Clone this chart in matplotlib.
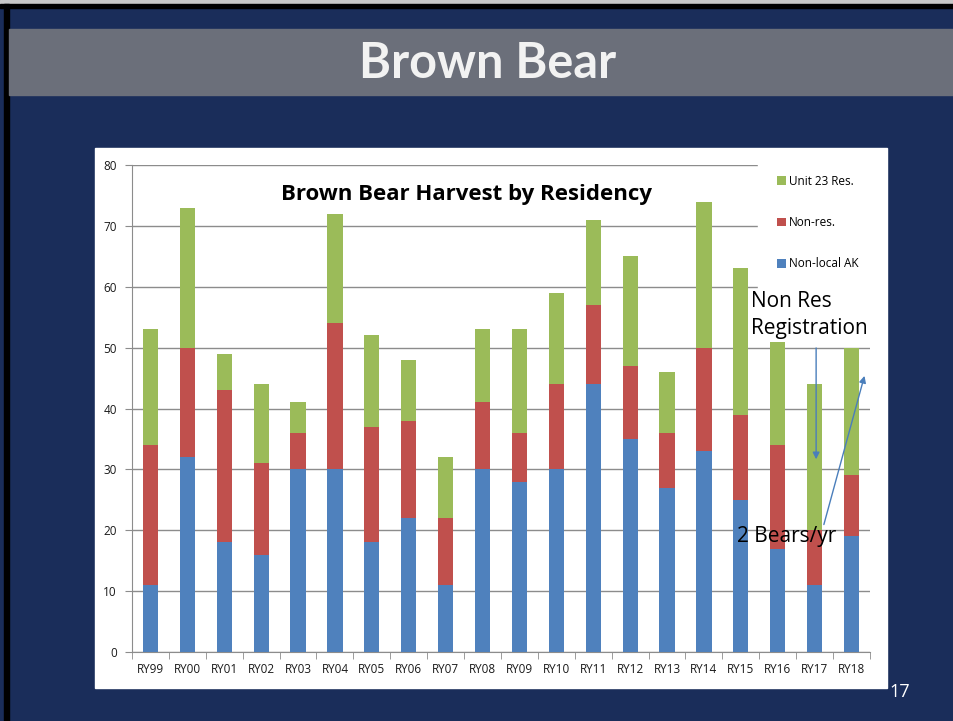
import matplotlib
matplotlib.use("Agg")
import matplotlib.pyplot as plt
import numpy as np
from matplotlib.patches import Rectangle

years = ["RY99", "RY00", "RY01", "RY02", "RY03", "RY04", "RY05", "RY06", "RY07", "RY08",
         "RY09", "RY10", "RY11", "RY12", "RY13", "RY14", "RY15", "RY16", "RY17", "RY18"]
nonlocal_ak = [11, 32, 18, 16, 30, 30, 18, 22, 11, 30, 28, 30, 44, 35, 27, 33, 25, 17, 11, 19]
non_res = [23, 18, 25, 15, 6, 24, 19, 16, 11, 11, 8, 14, 13, 12, 9, 17, 14, 17, 9, 10]
unit23_res = [19, 23, 6, 13, 5, 18, 15, 10, 10, 12, 17, 15, 14, 18, 10, 24, 24, 17, 24, 21]
y_ticks = [0, 10, 20, 30, 40, 50, 60, 70, 80]

W, H = 954, 721
NAVY = "#1a2d5a"
fig = plt.figure(figsize=(W / 100, H / 100), dpi=100)
fig.patch.set_facecolor(NAVY)

def fx(px):
    return px / W

def fy(py):
    return 1 - py / H

# slide decorations
fig.patches.append(Rectangle((0, fy(4)), 1, 4 / H, transform=fig.transFigure, color="#c8c8c8", zorder=-5))
fig.patches.append(Rectangle((0, fy(8)), 1, 4 / H, transform=fig.transFigure, color="#000000", zorder=-5))
fig.patches.append(Rectangle((fx(4), 0), 5 / W, fy(4), transform=fig.transFigure, color="#000000", zorder=-5))
fig.patches.append(Rectangle((fx(9), fy(95)), 1, 66 / H, transform=fig.transFigure, color="#6b6f7a", zorder=-5))
fig.patches.append(Rectangle((fx(95), fy(688)), 792 / W, 540 / H, transform=fig.transFigure, color="white", zorder=-5))
fig.text(fx(488), fy(63), "Brown Bear", color="#f2f2f2", fontsize=35, fontweight="bold",
         family=["Lato", "DejaVu Sans"], ha="center", va="center")
fig.text(fx(900), fy(692), "17", color="white", fontsize=13, family=["Open Sans", "DejaVu Sans"],
         ha="center", va="center")

ax = fig.add_axes([fx(132), fy(652), (870 - 132) / W, (652 - 165) / H])
ax.set_zorder(2)
ax.set_facecolor("white")
x = np.arange(len(years))
bw = 0.41
c_blue, c_red, c_green = "#4f81bd", "#c0504d", "#9bbb59"
b1 = ax.bar(x, nonlocal_ak, bw, color=c_blue, label="Non-local AK", zorder=3)
b2 = ax.bar(x, non_res, bw, bottom=nonlocal_ak, color=c_red, label="Non-res.", zorder=3)
bottom2 = np.array(nonlocal_ak) + np.array(non_res)
b3 = ax.bar(x, unit23_res, bw, bottom=bottom2, color=c_green, label="Unit 23 Res.", zorder=3)

ax.set_xlim(-0.5, len(years) - 0.5)
ax.set_ylim(0, 80)
ax.set_yticks(y_ticks)
ax.yaxis.grid(True, color="#8c8c8c", linewidth=1, zorder=0)
ax.set_axisbelow(True)
for s in ["top", "right"]:
    ax.spines[s].set_visible(False)
for s in ["left", "bottom"]:
    ax.spines[s].set_color("#8c8c8c")
ax.set_xticks(x)
ax.set_xticklabels(years)
ax.set_xticks(np.arange(len(years) + 1) - 0.5, minor=True)
ax.tick_params(axis="x", which="major", length=0, pad=8, labelsize=8.5, labelcolor="#1a1a1a")
ax.tick_params(axis="x", which="minor", length=5, color="#8c8c8c", direction="out")
ax.tick_params(axis="y", length=5, color="#8c8c8c", labelsize=8.5, labelcolor="#1a1a1a", pad=6)
for lab in ax.get_xticklabels() + ax.get_yticklabels():
    lab.set_family(["Open Sans", "DejaVu Sans"])

ax.text(8.57, 75.1, "Brown Bear Harvest by Residency", fontsize=16, fontweight="bold",
        family=["Open Sans", "DejaVu Sans"], ha="center", va="center", zorder=5)

leg = ax.legend(handles=[b3, b2, b1], loc="upper left", bbox_to_anchor=(0.840, 1.031),
                frameon=True, fancybox=False, edgecolor="white", facecolor="white", framealpha=1,
                handlelength=0.75, handleheight=0.75, handletextpad=0.3,
                labelspacing=2.4, borderpad=1.6, prop={"family": "Open Sans", "size": 8.5})
leg.set_zorder(6)

ax.text(16.27, 55.4, "Non Res\nRegistration", fontsize=15, family=["Open Sans", "DejaVu Sans"],
        ha="left", va="center", linespacing=1.4, zorder=6)
ax.text(15.9, 18.9, "2 Bears/yr", fontsize=15, family=["Open Sans", "DejaVu Sans"],
        ha="left", va="center", zorder=6)
arrow_kw = dict(arrowstyle="-|>", color="#4a7ebb", lw=1.0, mutation_scale=10)
ax.annotate("", xy=(18.04, 31.2), xytext=(18.04, 50.4), arrowprops=arrow_kw, zorder=7)
ax.annotate("", xy=(19.37, 45.8), xytext=(18.23, 20.5), arrowprops=arrow_kw, zorder=7)

fig.savefig("out.png", dpi=100, facecolor=fig.get_facecolor())
